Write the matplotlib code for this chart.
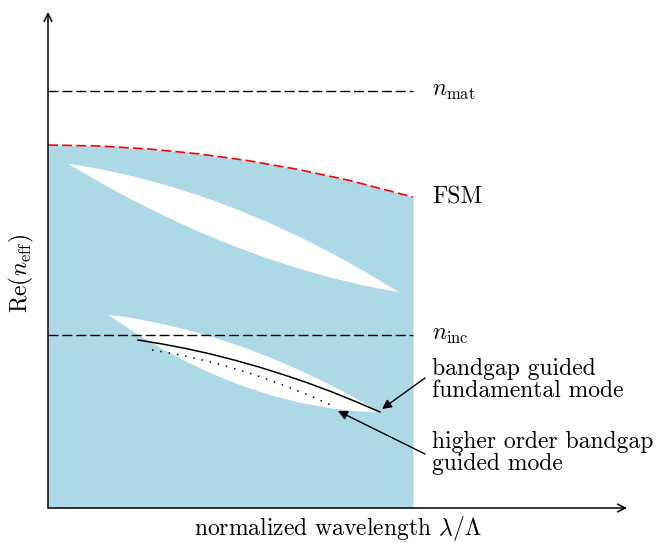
import matplotlib
matplotlib.use("Agg")
import matplotlib.pyplot as plt

plt.rcParams['font.family'] = 'cmr10'
plt.rcParams['mathtext.fontset'] = 'cm'
plt.rcParams['axes.unicode_minus'] = False

# cladding (FSM) upper bound, arbitrary units
fsm_x = [0.0, 0.5, 1.0, 1.5, 2.0, 2.5, 3.0, 3.65]
fsm_n = [3.63, 3.62, 3.591, 3.542, 3.474, 3.386, 3.279, 3.11]

# first bandgap (upper white lens)
gap1_x = [0.19, 0.522, 0.854, 1.186, 1.518, 1.85, 2.182, 2.514, 2.846, 3.178, 3.51]
gap1_top = [3.45, 3.393, 3.320, 3.231, 3.126, 3.005, 2.868, 2.715, 2.546, 2.361, 2.16]
gap1_bot = [3.45, 3.256, 3.077, 2.912, 2.761, 2.625, 2.503, 2.396, 2.303, 2.224, 2.16]

# second bandgap (lower white lens)
gap2_x = [0.59, 0.863, 1.136, 1.409, 1.682, 1.955, 2.228, 2.501, 2.774, 3.047, 3.32]
gap2_top = [1.94, 1.900, 1.846, 1.780, 1.702, 1.610, 1.506, 1.388, 1.258, 1.116, 0.96]
gap2_bot = [1.94, 1.759, 1.597, 1.453, 1.327, 1.220, 1.131, 1.061, 1.009, 0.975, 0.96]

# guided modes
fund_x = [0.90, 1.142, 1.384, 1.626, 1.868, 2.11, 2.352, 2.594, 2.836, 3.078, 3.32]
fund_n = [1.68, 1.640, 1.594, 1.540, 1.478, 1.410, 1.334, 1.252, 1.162, 1.064, 0.96]
high_x = [1.04, 1.266, 1.4925, 1.719, 1.945, 2.171, 2.3975, 2.624, 2.85]
high_n = [1.58, 1.541, 1.4925, 1.436, 1.370, 1.296, 1.2125, 1.121, 1.02]

n_mat = 4.17
n_inc = 1.73
x_end = 3.65

fig = plt.figure(figsize=(6.64, 5.43), dpi=100)
ax = fig.add_axes([48 / 664, 35 / 543, 580 / 664, 496 / 543])
ax.set_xlim(0, 5.80)
ax.set_ylim(0, 4.96)
ax.axis('off')

blue = '#add8e6'
ax.fill_between(fsm_x, 0, fsm_n, color=blue, lw=0)
ax.plot(fsm_x, fsm_n, color='red', lw=1.2, dashes=(6, 2.5))
ax.fill_between(gap1_x, gap1_bot, gap1_top, color='white', lw=0)
ax.fill_between(gap2_x, gap2_bot, gap2_top, color='white', lw=0)

ax.plot([0, x_end], [n_mat, n_mat], color='black', lw=1, dashes=(7.2, 2.8))
ax.plot([0, x_end], [n_inc, n_inc], color='black', lw=1, dashes=(7.2, 2.8))

ax.plot(fund_x, fund_n, color='black', lw=1.1)
ax.plot(high_x, high_n, color='black', lw=1.1, dashes=(1, 4.5))

# axes with arrow heads
arrow_kw = dict(arrowstyle='->', lw=1.1, color='black', shrinkA=0, shrinkB=0,
                mutation_scale=14)
ax.annotate('', xy=(5.79, 0), xytext=(0, 0), arrowprops=arrow_kw,
            annotation_clip=False)
ax.annotate('', xy=(0, 4.96), xytext=(0, 0), arrowprops=arrow_kw,
            annotation_clip=False)

fs = 17
tx = 3.84
ax.text(tx, n_mat, r'$n_\mathrm{mat}$', fontsize=fs, va='center', ha='left')
ax.text(tx, n_inc, r'$n_\mathrm{inc}$', fontsize=fs, va='center', ha='left')
ax.text(tx, 3.11, 'FSM', fontsize=fs, va='center', ha='left')
ax.text(tx, 1.28, 'bandgap guided\nfundamental mode', fontsize=fs,
        va='center', ha='left', linespacing=0.95)
ax.text(tx, 0.55, 'higher order bandgap\nguided mode', fontsize=fs,
        va='center', ha='left', linespacing=0.95)

head_kw = dict(arrowstyle='-|>', lw=1.0, color='black', shrinkA=0, shrinkB=0,
               mutation_scale=14)
ax.annotate('', xy=(3.34, 0.99), xytext=(3.77, 1.30), arrowprops=head_kw)
ax.annotate('', xy=(2.90, 0.97), xytext=(3.77, 0.54), arrowprops=head_kw)

ax.text(2.90, -0.205, r'normalized wavelength $\lambda/\Lambda$', fontsize=fs,
        ha='center', va='center')
ax.text(-0.27, 2.34, r'Re$(n_\mathrm{eff})$', fontsize=fs, ha='center',
        va='center', rotation=90)

fig.savefig('out.png', dpi=100)
